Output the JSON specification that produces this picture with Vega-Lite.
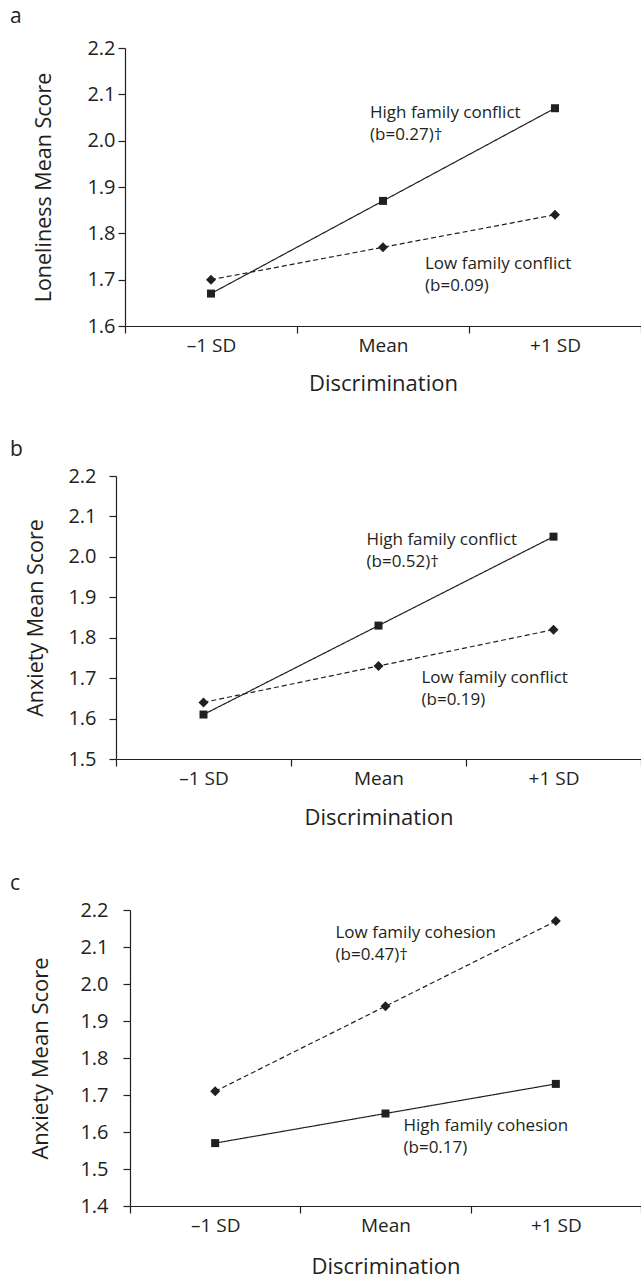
{
  "$schema": "https://vega.github.io/schema/vega-lite/v6.json",
  "padding": {"left": 10, "top": 6, "right": 0, "bottom": 0},
  "background": "white",
  "config": {
    "font": "Open Sans",
    "view": {"stroke": null},
    "axis": {
      "grid": false,
      "domainColor": "#231f20",
      "tickColor": "#231f20",
      "labelColor": "#231f20",
      "titleColor": "#231f20",
      "labelFont": "Open Sans",
      "titleFont": "Open Sans",
      "titleFontWeight": "normal",
      "domainWidth": 1.2,
      "tickWidth": 1.2,
      "tickSize": 7
    },
    "title": {"font": "Open Sans", "fontWeight": "normal", "fontSize": 21, "color": "#231f20", "anchor": "start", "frame": "group", "baseline": "alphabetic"},
    "line": {"color": "#231f20", "strokeWidth": 1.2},
    "point": {"color": "#231f20", "filled": true, "opacity": 1},
    "text": {"color": "#231f20", "font": "Open Sans", "fontSize": 17, "align": "left", "baseline": "alphabetic", "lineBreak": "\n", "lineHeight": 22}
  },
  "datasets": {
    "pts": [
      {"panel": "a", "level": "High", "disc": "–1 SD", "score": 1.67},
      {"panel": "a", "level": "High", "disc": "Mean", "score": 1.87},
      {"panel": "a", "level": "High", "disc": "+1 SD", "score": 2.07},
      {"panel": "a", "level": "Low", "disc": "–1 SD", "score": 1.70},
      {"panel": "a", "level": "Low", "disc": "Mean", "score": 1.77},
      {"panel": "a", "level": "Low", "disc": "+1 SD", "score": 1.84},
      {"panel": "b", "level": "High", "disc": "–1 SD", "score": 1.61},
      {"panel": "b", "level": "High", "disc": "Mean", "score": 1.83},
      {"panel": "b", "level": "High", "disc": "+1 SD", "score": 2.05},
      {"panel": "b", "level": "Low", "disc": "–1 SD", "score": 1.64},
      {"panel": "b", "level": "Low", "disc": "Mean", "score": 1.73},
      {"panel": "b", "level": "Low", "disc": "+1 SD", "score": 1.82},
      {"panel": "c", "level": "High", "disc": "–1 SD", "score": 1.57},
      {"panel": "c", "level": "High", "disc": "Mean", "score": 1.65},
      {"panel": "c", "level": "High", "disc": "+1 SD", "score": 1.73},
      {"panel": "c", "level": "Low", "disc": "–1 SD", "score": 1.71},
      {"panel": "c", "level": "Low", "disc": "Mean", "score": 1.94},
      {"panel": "c", "level": "Low", "disc": "+1 SD", "score": 2.17}
    ]
  },
  "spacing": 45,
  "vconcat": [
    {
      "title": {"text": "a", "dx": -106, "offset": 11},
      "width": 525,
      "height": 278,
      "data": {"name": "pts"},
      "transform": [{"filter": "datum.panel === 'a'"}],
      "encoding": {
        "x": {"field": "disc", "type": "nominal", "sort": ["–1 SD", "Mean", "+1 SD"],
          "scale": {"type": "band", "range": [9, 525], "paddingInner": 0, "paddingOuter": 0},
          "axis": {"title": "Discrimination", "titleFontSize": 22, "titleY": 64, "titleBaseline": "alphabetic", "labelFontSize": 19, "labelPadding": 18, "labelBaseline": "alphabetic", "labelAngle": 0, "tickBand": "extent"}},
        "y": {"field": "score", "type": "quantitative",
          "scale": {"domain": [1.6, 2.2], "nice": false, "zero": false},
          "axis": {"title": "Loneliness Mean Score", "titleFontSize": 21.5, "titleX": -75, "titleBaseline": "alphabetic", "values": [1.6, 1.7, 1.8, 1.9, 2.0, 2.1, 2.2], "format": ".1f", "labelFontSize": 20, "labelPadding": 3, "offset": -9}}
      },
      "layer": [
        {"mark": {"type": "line"},
          "encoding": {"strokeDash": {"field": "level", "type": "nominal", "scale": {"domain": ["High", "Low"], "range": [[1, 0], [5, 3]]}, "legend": null}}},
        {"mark": {"type": "point"},
          "encoding": {
            "shape": {"field": "level", "type": "nominal", "scale": {"domain": ["High", "Low"], "range": ["square", "diamond"]}, "legend": null},
            "size": {"field": "level", "type": "nominal", "scale": {"domain": ["High", "Low"], "range": [64, 100]}, "legend": null}}},
        {"transform": [{"filter": "datum.level === 'High' && datum.disc === 'Mean'"}],
          "mark": {"type": "text", "text": "High family conflict\n(b=0.27)†", "dx": -13, "dy": -83}},
        {"transform": [{"filter": "datum.level === 'Low' && datum.disc === 'Mean'"}],
          "mark": {"type": "text", "text": "Low family conflict\n(b=0.09)", "dx": 42, "dy": 22}}
      ]
    },
    {
      "title": {"text": "b", "dx": -106, "offset": 6},
      "width": 525,
      "height": 283,
      "data": {"name": "pts"},
      "transform": [{"filter": "datum.panel === 'b'"}],
      "encoding": {
        "x": {"field": "disc", "type": "nominal", "sort": ["–1 SD", "Mean", "+1 SD"],
          "scale": {"type": "band", "range": [0, 525], "paddingInner": 0, "paddingOuter": 0},
          "axis": {"title": "Discrimination", "titleFontSize": 22, "titleY": 65, "titleBaseline": "alphabetic", "labelFontSize": 19, "labelPadding": 18, "labelBaseline": "alphabetic", "labelAngle": 0, "tickBand": "extent"}},
        "y": {"field": "score", "type": "quantitative",
          "scale": {"domain": [1.5, 2.2], "nice": false, "zero": false},
          "axis": {"title": "Anxiety Mean Score", "titleFontSize": 21.5, "titleX": -74, "titleBaseline": "alphabetic", "values": [1.5, 1.6, 1.7, 1.8, 1.9, 2.0, 2.1, 2.2], "format": ".1f", "labelFontSize": 20, "labelPadding": 13, "offset": 0}}
      },
      "layer": [
        {"mark": {"type": "line"},
          "encoding": {"strokeDash": {"field": "level", "type": "nominal", "scale": {"domain": ["High", "Low"], "range": [[1, 0], [5, 3]]}, "legend": null}}},
        {"mark": {"type": "point"},
          "encoding": {
            "shape": {"field": "level", "type": "nominal", "scale": {"domain": ["High", "Low"], "range": ["square", "diamond"]}, "legend": null},
            "size": {"field": "level", "type": "nominal", "scale": {"domain": ["High", "Low"], "range": [64, 100]}, "legend": null}}},
        {"transform": [{"filter": "datum.level === 'High' && datum.disc === 'Mean'"}],
          "mark": {"type": "text", "text": "High family conflict\n(b=0.52)†", "dx": -12, "dy": -81}},
        {"transform": [{"filter": "datum.level === 'Low' && datum.disc === 'Mean'"}],
          "mark": {"type": "text", "text": "Low family conflict\n(b=0.19)", "dx": 43, "dy": 17}}
      ]
    },
    {
      "title": {"text": "c", "dx": -106, "offset": 6},
      "width": 525,
      "height": 296,
      "data": {"name": "pts"},
      "transform": [{"filter": "datum.panel === 'c'"}],
      "encoding": {
        "x": {"field": "disc", "type": "nominal", "sort": ["–1 SD", "Mean", "+1 SD"],
          "scale": {"type": "band", "range": [14, 525], "paddingInner": 0, "paddingOuter": 0},
          "axis": {"title": "Discrimination", "titleFontSize": 22, "titleY": 67, "titleBaseline": "alphabetic", "labelFontSize": 19, "labelPadding": 18, "labelBaseline": "alphabetic", "labelAngle": 0, "tickBand": "extent"}},
        "y": {"field": "score", "type": "quantitative",
          "scale": {"domain": [1.4, 2.2], "nice": false, "zero": false},
          "axis": {"title": "Anxiety Mean Score", "titleFontSize": 22, "titleX": -83, "titleBaseline": "alphabetic", "values": [1.4, 1.5, 1.6, 1.7, 1.8, 1.9, 2.0, 2.1, 2.2], "format": ".1f", "labelFontSize": 20, "labelPadding": 15, "offset": -14}}
      },
      "layer": [
        {"mark": {"type": "line"},
          "encoding": {"strokeDash": {"field": "level", "type": "nominal", "scale": {"domain": ["High", "Low"], "range": [[1, 0], [5, 3]]}, "legend": null}}},
        {"mark": {"type": "point"},
          "encoding": {
            "shape": {"field": "level", "type": "nominal", "scale": {"domain": ["High", "Low"], "range": ["square", "diamond"]}, "legend": null},
            "size": {"field": "level", "type": "nominal", "scale": {"domain": ["High", "Low"], "range": [64, 100]}, "legend": null}}},
        {"transform": [{"filter": "datum.level === 'Low' && datum.disc === 'Mean'"}],
          "mark": {"type": "text", "text": "Low family cohesion\n(b=0.47)†", "dx": -50, "dy": -68}},
        {"transform": [{"filter": "datum.level === 'High' && datum.disc === 'Mean'"}],
          "mark": {"type": "text", "text": "High family cohesion\n(b=0.17)", "dx": 18, "dy": 17}}
      ]
    }
  ]
}
